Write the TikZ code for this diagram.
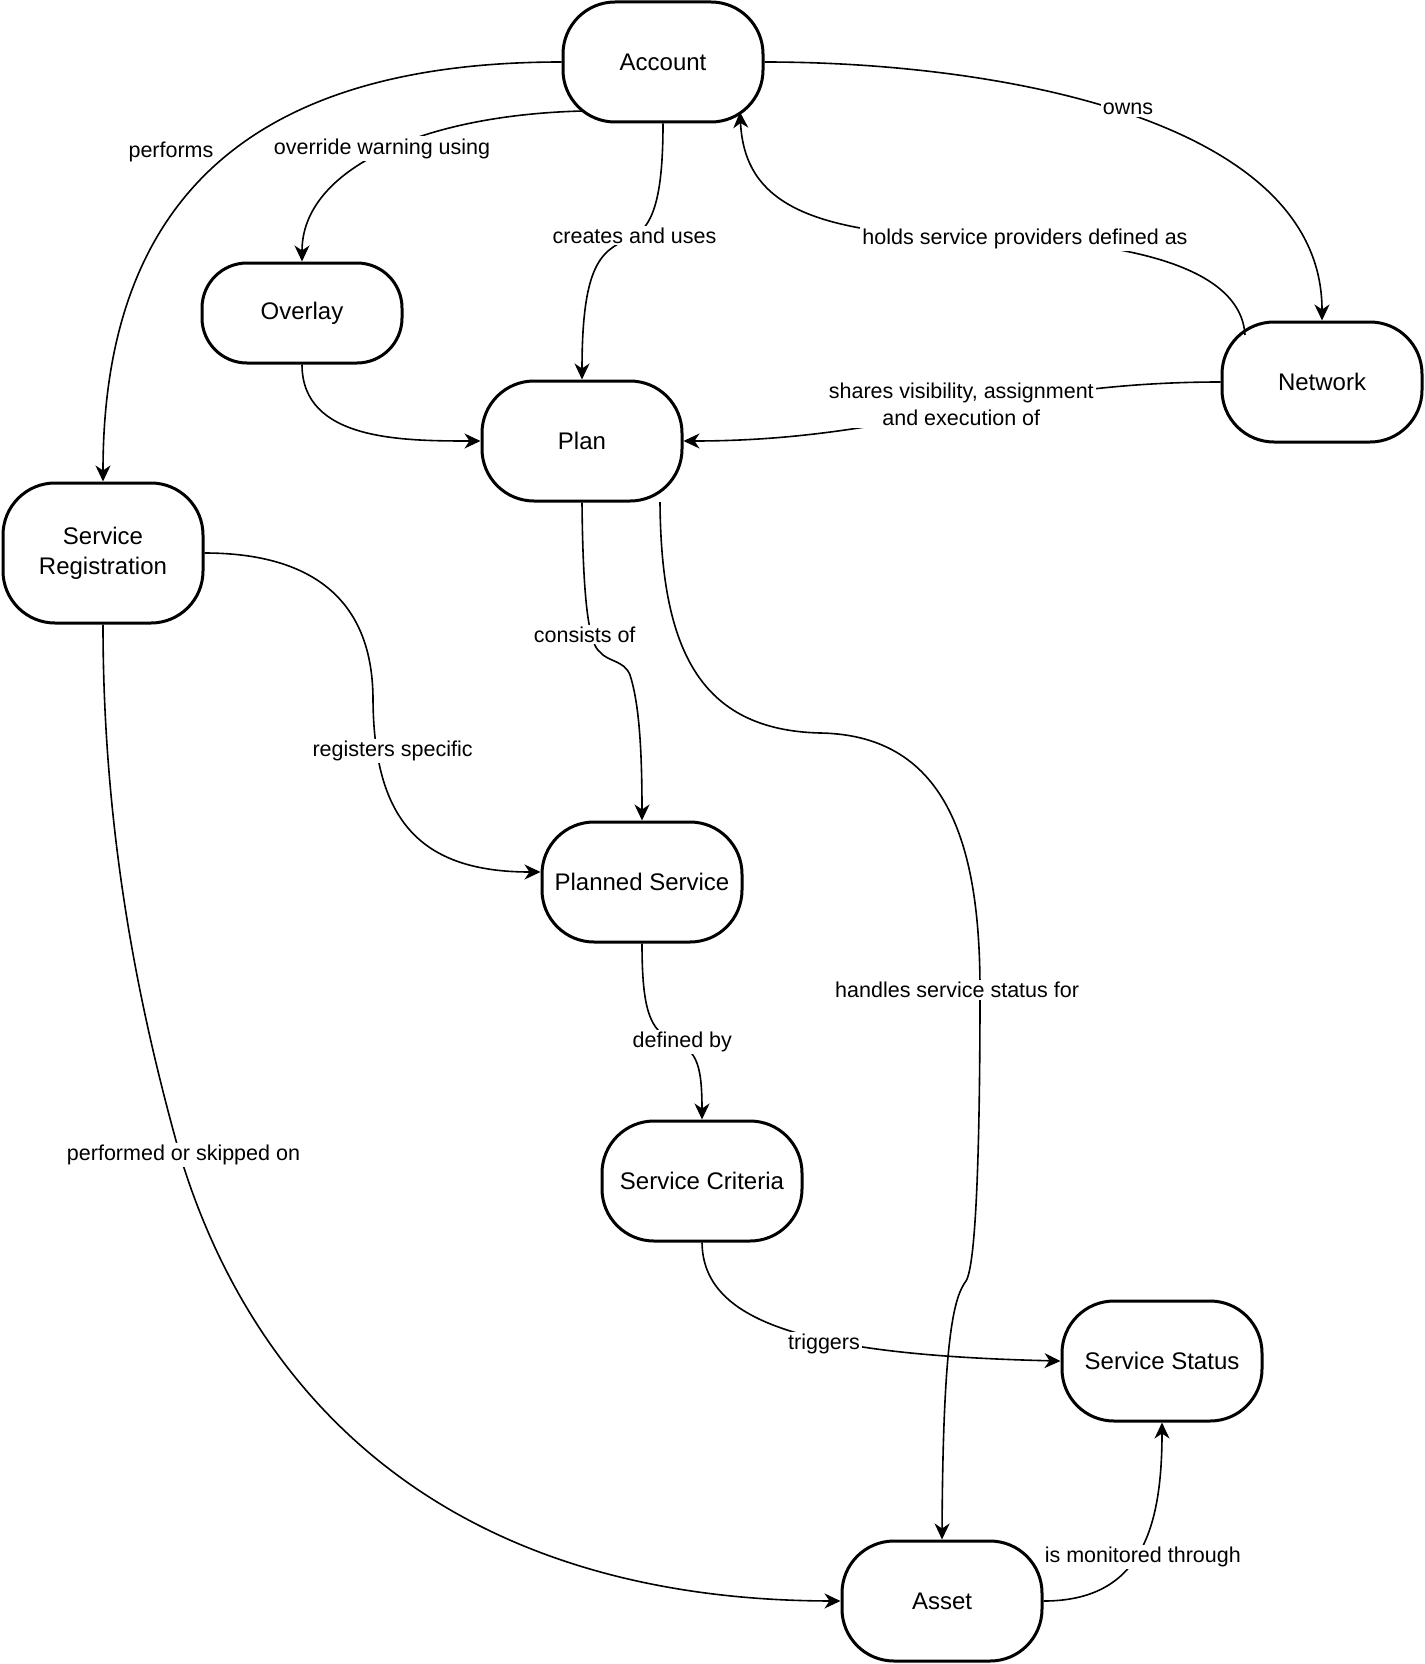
\documentclass[tikz,border=0pt]{standalone}
\usepackage{fontspec}
\setmainfont{Liberation Sans}
\usetikzlibrary{arrows.meta,calc}
\newcommand\myNodeFont{\fontsize{24}{30}\selectfont}
\newcommand\myLblFont{\fontsize{21.5}{27.5}\selectfont}
\begin{document}
\begin{tikzpicture}[x=1pt,y=-1pt,
  box/.style={draw, line width=3pt, rounded corners=52pt, minimum width=200pt, minimum height=120pt, align=center, font=\myNodeFont, inner sep=0pt, fill=white},
  edge/.style={line width=1.6pt, -{Stealth[length=16pt,width=15pt,inset=5pt]}},
  lbl/.style={fill=white, font=\myLblFont, inner sep=2pt, align=center}]
\useasboundingbox (0,0) rectangle (1424,1664);
% nodes
\node[box] (Account) at (663,62) {Account};
\node[box, minimum height=100pt, rounded corners=45pt] (Overlay) at (302,313) {Overlay};
\node[box] (Plan) at (582,441) {Plan};
\node[box] (Network) at (1322,382) {Network};
\node[box, minimum height=140pt] (SR) at (103,553) {Service\\Registration};
\node[box] (PS) at (642,882) {Planned Service};
\node[box] (SC) at (702,1181) {Service Criteria};
\node[box] (SS) at (1162,1361) {Service Status};
\node[box] (Asset) at (942,1601) {Asset};
% edges
\draw[edge] (Account.west) .. controls (250,62) and (103,200) .. (SR.north);
\draw[edge] ($(Account)+(-80,49)$) .. controls (420,115) and (302,170) .. (Overlay.north);
\draw[edge] (Account.south) .. controls (663,190) and (655,225) .. (634,236) .. controls (605,250) and (582,255) .. (Plan.north);
\draw[edge] ($(Network)+(-77,-47)$) .. controls (1242,285) and (1180,248) .. (1024,239) .. controls (830,238) and (745,215) .. ($(Account)+(77,50)$);
\draw[edge] (Account.east) .. controls (1000,62) and (1322,120) .. (Network.north);
\draw[edge] (Overlay.south) .. controls (302,440) and (400,441) .. (Plan.west);
\draw[edge] (Network.west) .. controls (1000,382) and (900,441) .. (Plan.east);
\draw[edge] (Plan.south) .. controls (583,610) and (590,645) .. (600,652) .. controls (608,662) and (624,660) .. (630,675) .. controls (638,700) and (642,740) .. (PS.north);
\draw[edge] ($(Plan)+(78,61)$) .. controls (661,650) and (700,730) .. (820,733) .. controls (950,735) and (980,850) .. (980,990) .. controls (980,1150) and (976,1265) .. (966,1281) .. controls (955,1296) and (943,1330) .. (Asset.north);
\draw[edge] (SR.east) .. controls (300,553) and (373,590) .. (373,700) .. controls (374,820) and (420,872) .. ($(PS.west)+(0,-10)$);
\draw[edge] (PS.south) .. controls (642,1010) and (650,1030) .. (672,1040) .. controls (695,1050) and (702,1060) .. (SC.north);
\draw[edge] (SC.south) .. controls (703,1320) and (800,1355) .. (SS.west);
\draw[edge] (SR.south) .. controls (103,850) and (145,1030) .. (180,1155) .. controls (245,1370) and (420,1600) .. (Asset.west);
\draw[edge] (Asset.east) .. controls (1140,1601) and (1162,1530) .. (SS.south);
% labels
\node[lbl] (l1) at (171,152) {performs};
\node[lbl] (l2) at (382,148.5) {override warning using};
\node[lbl] (l3) at (634.5,235.6) {creates and uses};
\node[lbl] (l4) at (1025,238.7) {holds service providers defined as};
\node[lbl] (l5) at (1128,109.3) {owns};
\node[lbl] (l6) at (961.3,404.3) {shares visibility, assignment\\and execution of};
\node[lbl] (l7) at (584.7,634.5) {consists of};
\node[lbl] (l8) at (392.6,751) {registers specific};
\node[lbl] (l9) at (957.1,990) {handles service status for};
\node[lbl] (l10) at (682.3,1042) {defined by};
\node[lbl] (l11) at (183.5,1155) {performed or skipped on};
\node[lbl] (l12) at (824,1344) {triggers};
\node[lbl] (l13) at (1142.8,1556.6) {is monitored through};
\end{tikzpicture}
\end{document}
